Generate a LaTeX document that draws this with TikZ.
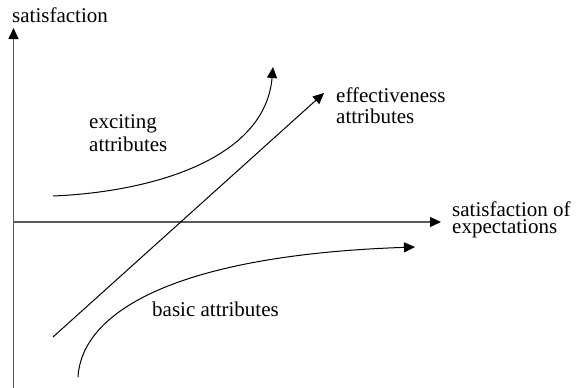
\documentclass[tikz,border=0pt]{standalone}
\usepackage{fontspec}
\setmainfont{Liberation Serif}
\usetikzlibrary{arrows.meta}
\begin{document}
\begin{tikzpicture}[x=1pt,y=-1pt,
  axisline/.style={draw=black!65,line width=1.3pt,-{Triangle[length=11pt,width=10pt,color=black]}},
  curveline/.style={draw=black,line width=1pt},
  curvearrow/.style={curveline,-{Triangle[length=11pt,width=10pt]}},
  lbl/.style={anchor=base west,inner sep=0pt,font=\fontsize{21}{22}\selectfont}]
\useasboundingbox (0,0) rectangle (576,388);
% axes
\coordinate (vb) at (13.5,389);
\coordinate (vt) at (13.5,28);
\coordinate (hl) at (13,222);
\coordinate (hr) at (441,222);
\draw[axisline] (vb) -- (vt);
\draw[axisline] (hl) -- (hr);
% curves
\coordinate (e0) at (53,196);
\coordinate (e1) at (273,67);
\draw[curvearrow] (e0) .. controls (150,192) and (265,160) .. (e1);
\coordinate (f0) at (53,337);
\coordinate (f1) at (324,93);
\draw[curvearrow] (f0) -- (f1);
\coordinate (b0) at (78,377);
\coordinate (b1) at (415,247);
\draw[curvearrow] (b0) .. controls (82,310) and (180,255) .. (b1);
% labels
\node[lbl] (ysat) at (12,23) {satisfaction};
\node[lbl] (exc1) at (89,128.5) {exciting};
\node[lbl] (exc2) at (89,151) {attributes};
\node[lbl] (eff1) at (336,102) {effectiveness};
\node[lbl] (eff2) at (336,123) {attributes};
\node[lbl] (xs1) at (452,216) {satisfaction of};
\node[lbl] (xs2) at (452,233.5) {expectations};
\node[lbl] (bas) at (152,316) {basic attributes};
\end{tikzpicture}
\end{document}
